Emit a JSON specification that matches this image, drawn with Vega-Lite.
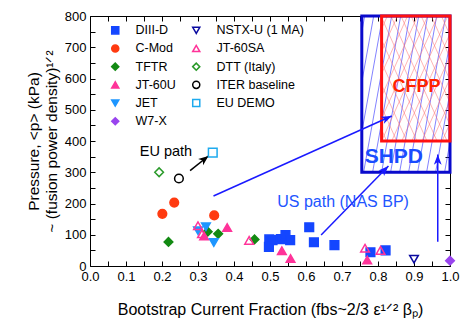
{
  "$schema": "https://vega.github.io/schema/vega-lite/v6.json",
  "width": 360,
  "height": 250,
  "autosize": {"type": "none"},
  "padding": {"left": 90, "top": 16, "right": 17, "bottom": 54},
  "background": "white",
  "config": {
    "font": "Liberation Sans",
    "view": {"stroke": null},
    "axis": {
      "grid": false,
      "domainColor": "black",
      "tickColor": "black",
      "labelColor": "black",
      "titleColor": "black",
      "tickSize": -5,
      "domainWidth": 1,
      "tickWidth": 1,
      "labelFontSize": 13,
      "titleFontSize": 16,
      "titleFontWeight": "normal"
    }
  },
  "resolve": {"axis": {"x": "independent", "y": "independent"}},
  "layer": [
    {
      "data": {"values": [
        {"x": 0.755, "y": 748.7, "x2": 0.763, "y2": 800},
        {"x": 0.755, "y": 588.5, "x2": 0.788, "y2": 800},
        {"x": 0.755, "y": 428.2, "x2": 0.813, "y2": 800},
        {"x": 0.76, "y": 300, "x2": 0.838, "y2": 800},
        {"x": 0.785, "y": 300, "x2": 0.863, "y2": 800},
        {"x": 0.81, "y": 300, "x2": 0.888, "y2": 800},
        {"x": 0.835, "y": 300, "x2": 0.913, "y2": 800},
        {"x": 0.86, "y": 300, "x2": 0.938, "y2": 800},
        {"x": 0.885, "y": 300, "x2": 0.963, "y2": 800},
        {"x": 0.91, "y": 300, "x2": 0.988, "y2": 800},
        {"x": 0.935, "y": 300, "x2": 1.0, "y2": 716.7},
        {"x": 0.96, "y": 300, "x2": 1.0, "y2": 556.4},
        {"x": 0.985, "y": 300, "x2": 1.0, "y2": 396.2}
      ]},
      "mark": {"type": "rule", "color": "#3b3bff", "strokeWidth": 0.8, "opacity": 0.8},
      "encoding": {
        "x": {"field": "x", "type": "quantitative", "scale": {"domain": [0, 1], "nice": false}, "axis": null},
        "y": {"field": "y", "type": "quantitative", "scale": {"domain": [0, 800], "nice": false}, "axis": null},
        "x2": {"field": "x2"},
        "y2": {"field": "y2"}
      }
    },
    {
      "data": {"values": [
        {"x": 0.81, "y": 758.9, "x2": 0.826, "y2": 800},
        {"x": 0.81, "y": 687.2, "x2": 0.854, "y2": 800},
        {"x": 0.81, "y": 615.4, "x2": 0.882, "y2": 800},
        {"x": 0.81, "y": 543.6, "x2": 0.91, "y2": 800},
        {"x": 0.81, "y": 471.8, "x2": 0.938, "y2": 800},
        {"x": 0.81, "y": 400, "x2": 0.966, "y2": 800},
        {"x": 0.838, "y": 400, "x2": 0.994, "y2": 800},
        {"x": 0.866, "y": 400, "x2": 1.0, "y2": 743.6},
        {"x": 0.894, "y": 400, "x2": 1.0, "y2": 671.8},
        {"x": 0.922, "y": 400, "x2": 1.0, "y2": 600},
        {"x": 0.95, "y": 400, "x2": 1.0, "y2": 528.2},
        {"x": 0.978, "y": 400, "x2": 1.0, "y2": 456.4},
        {"x": 0.824, "y": 400, "x2": 0.81, "y2": 435.9},
        {"x": 0.852, "y": 400, "x2": 0.81, "y2": 507.7},
        {"x": 0.88, "y": 400, "x2": 0.81, "y2": 579.5},
        {"x": 0.908, "y": 400, "x2": 0.81, "y2": 651.3},
        {"x": 0.936, "y": 400, "x2": 0.81, "y2": 723.1},
        {"x": 0.964, "y": 400, "x2": 0.81, "y2": 794.9},
        {"x": 0.992, "y": 400, "x2": 0.836, "y2": 800},
        {"x": 1.0, "y": 451.3, "x2": 0.864, "y2": 800},
        {"x": 1.0, "y": 523.1, "x2": 0.892, "y2": 800},
        {"x": 1.0, "y": 594.9, "x2": 0.92, "y2": 800},
        {"x": 1.0, "y": 666.7, "x2": 0.948, "y2": 800},
        {"x": 1.0, "y": 738.5, "x2": 0.976, "y2": 800}
      ]},
      "mark": {"type": "rule", "color": "#ff7070", "strokeWidth": 0.8, "opacity": 0.65},
      "encoding": {
        "x": {"field": "x", "type": "quantitative", "axis": null},
        "y": {"field": "y", "type": "quantitative", "axis": null},
        "x2": {"field": "x2"},
        "y2": {"field": "y2"}
      }
    },
    {
      "data": {"values": [{"box": "SHPD", "x": 0.755, "x2": 1.0, "y": 300, "y2": 800}]},
      "mark": {"type": "rect", "fill": "transparent", "stroke": "#0a0acc", "strokeWidth": 3},
      "encoding": {
        "x": {"field": "x", "type": "quantitative", "scale": {"domain": [0, 1], "nice": false},
          "axis": {"orient": "top", "values": [0,0.05,0.1,0.15,0.2,0.25,0.3,0.35,0.4,0.45,0.5,0.55,0.6,0.65,0.7,0.75,0.8,0.85,0.9,0.95,1], "labels": false, "title": null}},
        "y": {"field": "y", "type": "quantitative", "scale": {"domain": [0, 800], "nice": false},
          "axis": {"orient": "right", "values": [0,50,100,150,200,250,300,350,400,450,500,550,600,650,700,750,800], "labels": false, "title": null}},
        "x2": {"field": "x2"},
        "y2": {"field": "y2"}
      }
    },
    {
      "data": {"values": [{"box": "CFPP", "x": 0.81, "x2": 1.0, "y": 400, "y2": 800}]},
      "mark": {"type": "rect", "fill": "transparent", "stroke": "#ff1010", "strokeWidth": 3},
      "encoding": {
        "x": {"field": "x", "type": "quantitative", "axis": null},
        "y": {"field": "y", "type": "quantitative", "axis": null},
        "x2": {"field": "x2"},
        "y2": {"field": "y2"}
      }
    },
    {
      "data": {"values": [
        {"x": 0.343, "y": 224, "x2": 0.838, "y2": 480},
        {"x": 0.642, "y": 99, "x2": 0.829, "y2": 320},
        {"x": 0.966, "y": 78, "x2": 0.966, "y2": 357}
      ]},
      "mark": {"type": "rule", "color": "#1a1aff", "strokeWidth": 1.5},
      "encoding": {
        "x": {"field": "x", "type": "quantitative", "axis": null},
        "y": {"field": "y", "type": "quantitative", "axis": null},
        "x2": {"field": "x2"},
        "y2": {"field": "y2"}
      }
    },
    {
      "data": {"values": [{"x": 0.278, "y": 305, "x2": 0.329, "y2": 352}]},
      "mark": {"type": "rule", "color": "black", "strokeWidth": 1.5},
      "encoding": {
        "x": {"field": "x", "type": "quantitative", "axis": null},
        "y": {"field": "y", "type": "quantitative", "axis": null},
        "x2": {"field": "x2"},
        "y2": {"field": "y2"}
      }
    },
    {
      "data": {"values": [{"x": 0.329, "y": 352}]},
      "mark": {"type": "point", "shape": "M0,0L-0.4,1L0,0.72L0.4,1Z", "filled": true, "size": 400, "angle": 51.4, "color": "black", "opacity": 1, "strokeWidth": 0},
      "encoding": {
        "x": {"field": "x", "type": "quantitative", "axis": null},
        "y": {"field": "y", "type": "quantitative", "axis": null}
      }
    },
    {
      "data": {"values": [{"x": 0.838, "y": 480}]},
      "mark": {"type": "point", "shape": "M0,0L-0.38,1L0,0.75L0.38,1Z", "filled": true, "size": 420, "angle": 65.8, "color": "#1a1aff", "opacity": 1, "strokeWidth": 0},
      "encoding": {
        "x": {"field": "x", "type": "quantitative", "axis": null},
        "y": {"field": "y", "type": "quantitative", "axis": null}
      }
    },
    {
      "data": {"values": [{"x": 0.829, "y": 320}]},
      "mark": {"type": "point", "shape": "M0,0L-0.38,1L0,0.75L0.38,1Z", "filled": true, "size": 420, "angle": 44.3, "color": "#1a1aff", "opacity": 1, "strokeWidth": 0},
      "encoding": {
        "x": {"field": "x", "type": "quantitative", "axis": null},
        "y": {"field": "y", "type": "quantitative", "axis": null}
      }
    },
    {
      "data": {"values": [{"x": 0.966, "y": 357}]},
      "mark": {"type": "point", "shape": "M0,0L-0.38,1L0,0.75L0.38,1Z", "filled": true, "size": 420, "angle": 0, "color": "#1a1aff", "opacity": 1, "strokeWidth": 0},
      "encoding": {
        "x": {"field": "x", "type": "quantitative", "axis": null},
        "y": {"field": "y", "type": "quantitative", "axis": null}
      }
    },
    {
      "data": {"values": [{"label": "EU path", "x": 0.211, "y": 365}]},
      "mark": {"type": "text", "fontSize": 14.5, "color": "black", "align": "center", "baseline": "middle"},
      "encoding": {
        "x": {"field": "x", "type": "quantitative", "axis": null},
        "y": {"field": "y", "type": "quantitative", "axis": null},
        "text": {"field": "label"}
      }
    },
    {
      "data": {"values": [{"label": "US path (NAS BP)", "x": 0.703, "y": 206}]},
      "mark": {"type": "text", "fontSize": 16, "color": "#2255ff", "align": "center", "baseline": "middle"},
      "encoding": {
        "x": {"field": "x", "type": "quantitative", "axis": null},
        "y": {"field": "y", "type": "quantitative", "axis": null},
        "text": {"field": "label"}
      }
    },
    {
      "data": {"values": [{"label": "SHPD", "x": 0.844, "y": 349}]},
      "mark": {"type": "text", "fontSize": 21, "fontWeight": "bold", "color": "#1a4cff", "align": "center", "baseline": "middle"},
      "encoding": {
        "x": {"field": "x", "type": "quantitative", "axis": null},
        "y": {"field": "y", "type": "quantitative", "axis": null},
        "text": {"field": "label"}
      }
    },
    {
      "data": {"values": [{"label": "CFPP", "x": 0.907, "y": 574}]},
      "mark": {"type": "text", "fontSize": 18, "fontWeight": "bold", "color": "#ff2200", "align": "center", "baseline": "middle"},
      "encoding": {
        "x": {"field": "x", "type": "quantitative", "axis": null},
        "y": {"field": "y", "type": "quantitative", "axis": null},
        "text": {"field": "label"}
      }
    },
    {
      "data": {"values": [
        {"series": "DIII-D", "x": 0.498, "y": 85},
        {"series": "DIII-D", "x": 0.507, "y": 83},
        {"series": "DIII-D", "x": 0.497, "y": 61},
        {"series": "DIII-D", "x": 0.53, "y": 86},
        {"series": "DIII-D", "x": 0.543, "y": 99},
        {"series": "DIII-D", "x": 0.556, "y": 83},
        {"series": "DIII-D", "x": 0.609, "y": 124},
        {"series": "DIII-D", "x": 0.622, "y": 76},
        {"series": "DIII-D", "x": 0.679, "y": 67},
        {"series": "DIII-D", "x": 0.779, "y": 44},
        {"series": "DIII-D", "x": 0.821, "y": 50},
        {"series": "C-Mod", "x": 0.234, "y": 203},
        {"series": "C-Mod", "x": 0.201, "y": 167},
        {"series": "C-Mod", "x": 0.345, "y": 162},
        {"series": "TFTR", "x": 0.218, "y": 77},
        {"series": "TFTR", "x": 0.327, "y": 110},
        {"series": "TFTR", "x": 0.356, "y": 103},
        {"series": "TFTR", "x": 0.457, "y": 85},
        {"series": "JT-60U", "x": 0.381, "y": 123},
        {"series": "JT-60U", "x": 0.317, "y": 96},
        {"series": "JT-60U", "x": 0.533, "y": 49},
        {"series": "JT-60U", "x": 0.557, "y": 24},
        {"series": "JT-60U", "x": 0.77, "y": 19},
        {"series": "JET", "x": 0.322, "y": 126},
        {"series": "JET", "x": 0.30, "y": 113},
        {"series": "JET", "x": 0.344, "y": 75},
        {"series": "W7-X", "x": 1.0, "y": 17},
        {"series": "NSTX-U (1 MA)", "x": 0.90, "y": 22},
        {"series": "JT-60SA", "x": 0.30, "y": 129},
        {"series": "JT-60SA", "x": 0.311, "y": 103},
        {"series": "JT-60SA", "x": 0.442, "y": 82},
        {"series": "JT-60SA", "x": 0.764, "y": 57},
        {"series": "JT-60SA", "x": 0.807, "y": 50},
        {"series": "DTT (Italy)", "x": 0.192, "y": 300},
        {"series": "ITER baseline", "x": 0.247, "y": 280},
        {"series": "EU DEMO", "x": 0.341, "y": 363}
      ]},
      "mark": {"type": "point", "filled": true, "size": 75, "strokeWidth": 1.5, "opacity": 1},
      "encoding": {
        "x": {"field": "x", "type": "quantitative", "scale": {"domain": [0, 1], "nice": false},
          "axis": {"orient": "bottom",
            "values": [0,0.05,0.1,0.15,0.2,0.25,0.3,0.35,0.4,0.45,0.5,0.55,0.6,0.65,0.7,0.75,0.8,0.85,0.9,0.95,1],
            "labelExpr": "abs(datum.value*10 - round(datum.value*10)) < 0.001 ? format(datum.value, '.1f') : ''",
            "title": "Bootstrap Current Fraction (fbs~2/3 ε¹ᐟ² βₚ)",
            "labelPadding": 9, "titlePadding": 18, "labelFlush": false}},
        "y": {"field": "y", "type": "quantitative", "scale": {"domain": [0, 800], "nice": false},
          "axis": {"orient": "left",
            "values": [0,50,100,150,200,250,300,350,400,450,500,550,600,650,700,750,800],
            "labelExpr": "datum.value % 100 == 0 ? datum.label : ''",
            "title": ["Pressure, <p> (kPa)", "~ (fusion power density)¹ᐟ²"],
            "titleFontSize": 15.5, "titleLineHeight": 18,
            "labelPadding": 9, "titlePadding": 5}},
        "shape": {"field": "series", "type": "nominal",
          "scale": {"domain": ["DIII-D","C-Mod","TFTR","JT-60U","JET","W7-X","NSTX-U (1 MA)","JT-60SA","DTT (Italy)","ITER baseline","EU DEMO"],
            "range": ["square","circle","diamond","triangle-up","triangle-down","diamond","triangle-down","triangle-up","diamond","circle","square"]},
          "legend": {"title": null, "orient": "none", "legendX": 19, "legendY": 8, "columns": 2, "labelFontSize": 12.5, "symbolSize": 50, "symbolStrokeWidth": 1.5, "rowPadding": 4.2, "columnPadding": 13, "labelOffset": 14, "padding": 0, "labelColor": "black"}},
        "fill": {"field": "series", "type": "nominal",
          "scale": {"domain": ["DIII-D","C-Mod","TFTR","JT-60U","JET","W7-X","NSTX-U (1 MA)","JT-60SA","DTT (Italy)","ITER baseline","EU DEMO"],
            "range": ["#1446ff","#ff3a10","#138a13","#ff3399","#1e96ff","#9944ee","transparent","transparent","transparent","transparent","transparent"]},
          "legend": {"title": null, "orient": "none", "legendX": 19, "legendY": 8, "columns": 2, "labelFontSize": 12.5, "symbolSize": 50, "symbolStrokeWidth": 1.5, "rowPadding": 4.2, "columnPadding": 13, "labelOffset": 14, "padding": 0, "labelColor": "black"}},
        "stroke": {"field": "series", "type": "nominal",
          "scale": {"domain": ["DIII-D","C-Mod","TFTR","JT-60U","JET","W7-X","NSTX-U (1 MA)","JT-60SA","DTT (Italy)","ITER baseline","EU DEMO"],
            "range": ["#1446ff","#ff3a10","#138a13","#ff3399","#1e96ff","#9944ee","#0a0aa0","#ff3399","#2a9a2a","black","#1eaaee"]},
          "legend": {"title": null, "orient": "none", "legendX": 19, "legendY": 8, "columns": 2, "labelFontSize": 12.5, "symbolSize": 50, "symbolStrokeWidth": 1.5, "rowPadding": 4.2, "columnPadding": 13, "labelOffset": 14, "padding": 0, "labelColor": "black"}}
      }
    }
  ]
}
